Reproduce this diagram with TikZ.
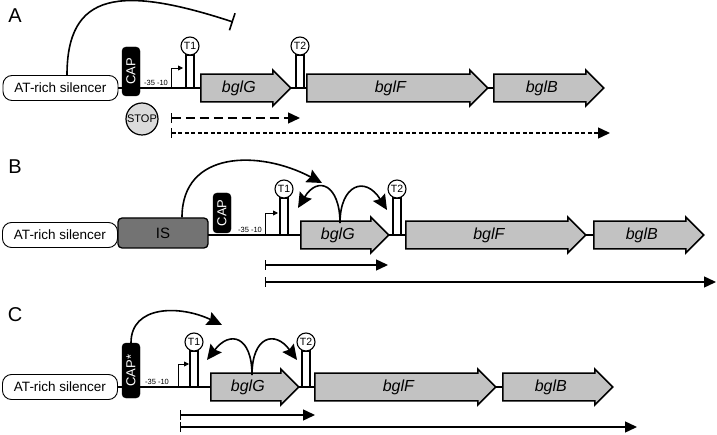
\documentclass[tikz,border=0pt]{standalone}
\usepackage{fontspec}
\setmainfont{Liberation Sans}
\usetikzlibrary{positioning, calc, shapes.arrows, arrows.meta, backgrounds}

\definecolor{genefill}{gray}{0.76}
\definecolor{isfill}{gray}{0.45}
\definecolor{stopfill}{gray}{0.86}

\tikzset{
  panel/.style={font=\fontsize{20}{20}\selectfont, inner sep=0pt},
  silencer/.style={draw, line width=0.9pt, rounded corners=9pt, minimum width=115pt, minimum height=25pt, inner sep=0pt, font=\fontsize{13.5}{13.5}\selectfont},
  capbox/.style={draw, fill=black, text=white, rounded corners=4pt, rotate=90, minimum height=18pt, inner sep=0pt, font=\fontsize{13}{13}\selectfont},
  isbox/.style={draw, fill=isfill, line width=1.3pt, rounded corners=4pt, minimum width=90pt, minimum height=30pt, inner sep=0pt, font=\fontsize{15}{15}\selectfont},
  small35/.style={inner sep=0pt, font=\fontsize{7.5}{7.5}\selectfont},
  stem/.style={draw, fill=white, line width=1.2pt, minimum width=8pt, inner sep=0pt},
  term/.style={circle, draw, fill=white, line width=1.1pt, minimum size=18pt, inner sep=0pt, font=\fontsize{10.5}{10.5}\selectfont},
  gene/.style={single arrow, draw, fill=genefill, line width=1.5pt, minimum width=36pt, single arrow head extend=2.5pt, single arrow tip angle=90, inner sep=0pt, anchor=tail, font=\fontsize{16}{16}\selectfont\itshape},
  stopsign/.style={circle, draw, fill=stopfill, line width=1.2pt, minimum size=32pt, inner sep=0pt, font=\fontsize{11}{11}\selectfont},
  dna/.style={line width=1.4pt},
  prom/.style={line width=0.8pt, -{Triangle[length=5pt,width=5pt]}},
  tx/.style={line width=1.4pt, {Bar[width=10pt,line width=1.2pt]}-{Triangle[length=12pt,width=11pt]}},
  act/.style={line width=1.6pt, -{Stealth[length=15pt,width=14pt,inset=2pt]}},
  inhib/.style={line width=1.6pt, -{Bar[width=18pt,line width=1.6pt]}}
}

\begin{document}
\begin{tikzpicture}[x=1pt, y=-1pt]
\useasboundingbox (0,0) rectangle (717,435);

% A
\node[panel] (labA) at (15,16) {A};
\node[silencer] (silA) at (60.5,88) {AT-rich silencer};
\node[capbox, minimum width=49pt] (capA) at (131,71.5) {CAP};
\node[small35] (pA) at (156,83) {-35 -10};
\node[stem, minimum height=33pt] (sA1) at (190,71.5) {};
\node[term] (tA1) at (190,46) {T1};
\node[gene, minimum height=90pt] (gA) at (200,88) {bglG};
\node[stem, minimum height=33pt] (sA2) at (300,71.5) {};
\node[term] (tA2) at (300,46) {T2};
\node[gene, minimum height=181pt] (fA) at (306,88) {bglF};
\node[gene, minimum height=110pt] (bA) at (493,88) {bglB};
\node[stopsign] (stopA) at (142,119) {STOP};
\begin{scope}[on background layer]
  \draw[dna] (silA.east) -- (bA.tail);
\end{scope}
\coordinate (tssA) at (171,88);
\draw[prom] (tssA) |- ++(12,-20);
\draw[inhib] ([xshift=6.5pt]silA.north) .. controls (67,-8) and (120,-15) .. (233,22);
\coordinate (rA1) at (171,118);
\coordinate (rA2) at (171,133);
\draw[tx, dash pattern=on 9pt off 5pt] (rA1) -- ++(129,0);
\draw[tx, dash pattern=on 4pt off 2.5pt] (rA2) -- ++(439,0);

% B
\node[panel] (labB) at (15,167) {B};
\node[silencer] (silB) at (60,235) {AT-rich silencer};
\node[isbox] (isB) at (163,233) {IS};
\node[capbox, minimum width=40pt] (capB) at (222,213) {CAP};
\node[small35] (pB) at (250,230) {-35 -10};
\node[stem, minimum height=37pt] (sB1) at (284,216.5) {};
\node[term] (tB1) at (284,189) {T1};
\node[gene, minimum height=88pt] (gB) at (300,235) {bglG};
\node[stem, minimum height=37pt] (sB2) at (397,216.5) {};
\node[term] (tB2) at (397,189) {T2};
\node[gene, minimum height=180pt] (fB) at (405,235) {bglF};
\node[gene, minimum height=110pt] (bB) at (593,235) {bglB};
\begin{scope}[on background layer]
  \draw[dna] (silB.east) -- (bB.tail);
\end{scope}
\coordinate (tssB) at (265,235);
\draw[prom] (tssB) |- ++(13,-22);
\draw[act] ([xshift=19pt]isB.north) .. controls (182,150) and (260,150) .. (322,183);
\coordinate (forkB) at (340,223);
\draw[act] (forkB) .. controls +(0,-38) and +(20,-33) .. (298,208);
\draw[act] (forkB) .. controls +(0,-38) and +(-22,-35) .. (387,210);
\coordinate (rB1) at (265,265);
\coordinate (rB2) at (265,282);
\draw[tx] (rB1) -- ++(123,0);
\draw[tx] (rB2) -- ++(451,0);

% C
\node[panel] (labC) at (15,315) {C};
\node[silencer] (silC) at (60,387) {AT-rich silencer};
\node[capbox, minimum width=55pt] (capC) at (131,370.5) {CAP*};
\node[small35] (pC) at (157,382) {-35 -10};
\node[stem, minimum height=36pt] (sC1) at (194,369) {};
\node[term] (tC1) at (194,342) {T1};
\node[gene, minimum height=88pt] (gC) at (210,387) {bglG};
\node[stem, minimum height=36pt] (sC2) at (306,369) {};
\node[term] (tC2) at (306,342) {T2};
\node[gene, minimum height=181pt] (fC) at (314,387) {bglF};
\node[gene, minimum height=110pt] (bC) at (502,387) {bglB};
\begin{scope}[on background layer]
  \draw[dna] (silC.east) -- (bC.tail);
\end{scope}
\coordinate (tssC) at (178,387);
\draw[prom] (tssC) |- ++(11,-23);
\draw[act] (capC.east) .. controls (131,305) and (180,305) .. (222,325);
\coordinate (forkC) at (252,375);
\draw[act] (forkC) .. controls +(0,-39) and +(23,-30) .. (207,360);
\draw[act] (forkC) .. controls +(0,-39) and +(-22,-30) .. (297,360);
\coordinate (rC1) at (180,415);
\coordinate (rC2) at (180,427);
\draw[tx] (rC1) -- ++(135,0);
\draw[tx] (rC2) -- ++(457,0);
\end{tikzpicture}
\end{document}
